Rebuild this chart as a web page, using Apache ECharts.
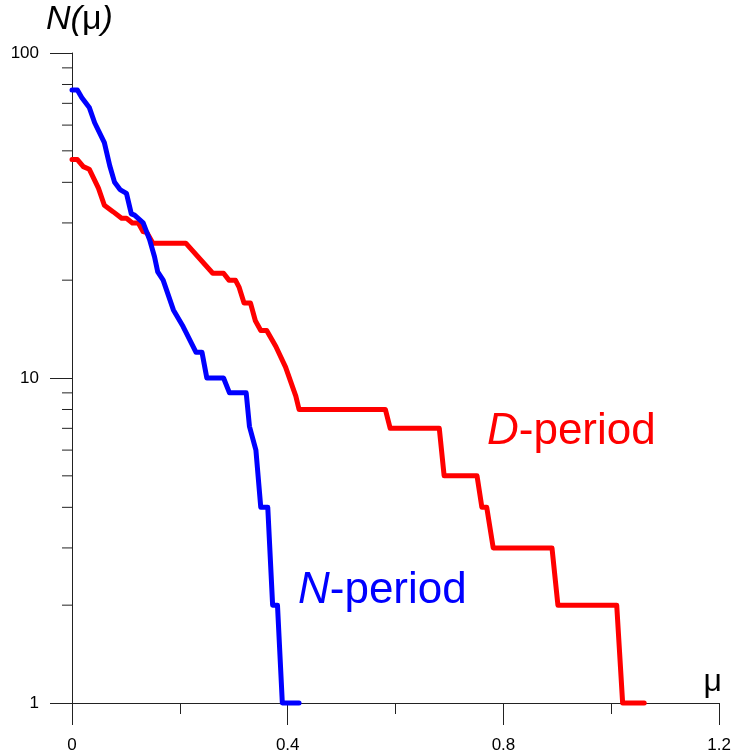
<!DOCTYPE html>
<html>
<head>
<meta charset="utf-8">
<script src="https://cdn.jsdelivr.net/npm/echarts@6/dist/echarts.min.js"></script>
<style>
  html, body { margin: 0; padding: 0; background: #fff; }
  #chart { width: 734px; height: 756px; }
</style>
</head>
<body>
<div id="chart"></div>
<script>
// N-period: cumulative count N(mu) against mu
const nPeriodMu = [0, 0.010, 0.018, 0.032, 0.042, 0.060, 0.070, 0.079, 0.089, 0.101, 0.110, 0.116, 0.132, 0.144, 0.153, 0.159, 0.169, 0.188, 0.206, 0.230, 0.241, 0.250, 0.281, 0.292, 0.323, 0.329, 0.341, 0.350, 0.363, 0.372, 0.381, 0.390, 0.421];
const nPeriodN  = [77, 77, 73, 68, 61, 53, 45, 40, 38, 37, 32, 31.7, 30, 26.6, 23.6, 21.2, 20, 16.2, 14.4, 12, 12, 10, 10, 9, 9, 7.1, 6, 4, 4, 2, 2, 1, 1];

// D-period: cumulative count N(mu) against mu
const dPeriodMu = [0, 0.010, 0.021, 0.032, 0.049, 0.060, 0.076, 0.092, 0.101, 0.112, 0.123, 0.132, 0.139, 0.150, 0.211, 0.261, 0.281, 0.291, 0.303, 0.310, 0.319, 0.331, 0.340, 0.350, 0.361, 0.378, 0.396, 0.415, 0.421, 0.581, 0.590, 0.681, 0.690, 0.751, 0.760, 0.769, 0.781, 0.890, 0.901, 1.010, 1.021, 1.061];
const dPeriodN  = [47, 47, 44.7, 43.9, 38.4, 34, 32.5, 31, 31, 30, 30, 28.2, 28, 26, 26, 21, 21, 20, 20, 19, 17, 17, 15, 14, 14, 12.5, 10.8, 8.8, 8, 8, 7, 7, 5, 5, 4, 4, 3, 3, 2, 2, 1, 1];

// Axis ticks
const xTickLabels = [0, 0.4, 0.8, 1.2];
const yMinorTicks = [2, 3, 4, 5, 6, 7, 8, 9, 20, 30, 40, 50, 60, 70, 80, 90];

const FONT = '"Liberation Sans", Arial, sans-serif';
const AXIS = '#222';

const zip = (xs, ys) => xs.map((x, i) => [x, ys[i]]);

const chart = echarts.init(document.getElementById('chart'), null, { renderer: 'canvas' });

chart.setOption({
  animation: false,
  backgroundColor: '#fff',
  grid: { left: 72, right: 12, top: 53, bottom: 53 },
  xAxis: {
    type: 'value',
    min: 0,
    max: 1.2,
    interval: 0.4,
    axisLine: { show: true, onZero: false, lineStyle: { color: AXIS, width: 1 } },
    axisTick: { show: true, length: 22, lineStyle: { color: AXIS, width: 1 } },
    minorTick: { show: true, splitNumber: 2, length: 11, lineStyle: { color: AXIS, width: 1 } },
    splitLine: { show: false },
    minorSplitLine: { show: false },
    axisLabel: {
      margin: 34,
      color: '#000',
      fontFamily: FONT,
      fontSize: 17,
      formatter: v => {
        const hit = xTickLabels.find(t => Math.abs(t - v) < 1e-9);
        return hit === undefined ? '' : String(hit);
      }
    }
  },
  yAxis: {
    type: 'log',
    logBase: 10,
    min: 1,
    max: 100,
    axisLine: { show: true, onZero: false, lineStyle: { color: AXIS, width: 1 } },
    axisTick: { show: true, length: 22, lineStyle: { color: AXIS, width: 1 } },
    minorTick: { show: false },
    splitLine: { show: false },
    axisLabel: {
      margin: 33,
      color: '#000',
      fontFamily: FONT,
      fontSize: 17
    }
  },
  graphic: [
    {
      type: 'text', left: 46, top: 3, z: 10,
      style: {
        text: '{i|N(}{m|μ}{i|)}',
        rich: {
          i: { fontFamily: FONT, fontSize: 34, fontStyle: 'italic', fill: '#000' },
          m: { fontFamily: FONT, fontSize: 34, fill: '#000' }
        }
      }
    },
    {
      type: 'text', z: 10,
      style: { x: 722, y: 682, text: 'μ', align: 'right', verticalAlign: 'middle',
               font: '32px ' + FONT, fill: '#000' }
    },
    {
      type: 'text', z: 10,
      style: {
        x: 487, y: 432, verticalAlign: 'middle',
        text: '{i|D}{n|-period}',
        rich: {
          i: { fontFamily: FONT, fontSize: 44, fontStyle: 'italic', fill: '#ff0000' },
          n: { fontFamily: FONT, fontSize: 44, fill: '#ff0000' }
        }
      }
    },
    {
      type: 'text', z: 10,
      style: {
        x: 298, y: 591, verticalAlign: 'middle',
        text: '{i|N}{n|-period}',
        rich: {
          i: { fontFamily: FONT, fontSize: 44, fontStyle: 'italic', fill: '#0000ff' },
          n: { fontFamily: FONT, fontSize: 44, fill: '#0000ff' }
        }
      }
    }
  ],
  series: [
    {
      name: 'y minor ticks',
      type: 'custom',
      silent: true,
      clip: false,
      data: yMinorTicks.map(v => [0, v]),
      encode: { x: 0, y: 1 },
      renderItem: (params, api) => {
        const p = api.coord([0, api.value(1)]);
        return {
          type: 'line',
          shape: { x1: p[0] - 10, y1: p[1], x2: p[0], y2: p[1] },
          style: { stroke: AXIS, lineWidth: 1 }
        };
      },
      z: 1
    },
    {
      name: 'D-period',
      type: 'line',
      data: zip(dPeriodMu, dPeriodN),
      showSymbol: false,
      symbol: 'none',
      clip: false,
      lineStyle: { color: '#ff0000', width: 5, cap: 'round', join: 'round' },
      z: 3
    },
    {
      name: 'N-period',
      type: 'line',
      data: zip(nPeriodMu, nPeriodN),
      showSymbol: false,
      symbol: 'none',
      clip: false,
      lineStyle: { color: '#0000ff', width: 5, cap: 'round', join: 'round' },
      z: 4
    }
  ]
});
</script>
</body>
</html>
